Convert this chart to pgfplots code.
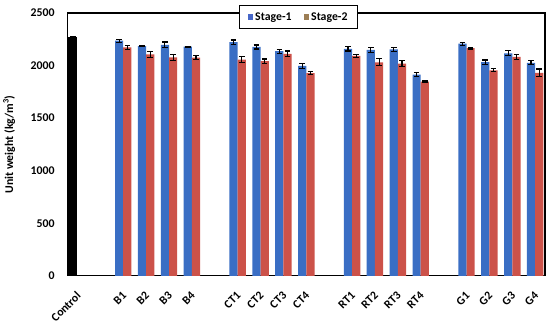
\documentclass[border=0pt]{standalone}
\usepackage{pgfplots}
\pgfplotsset{compat=1.18}
\usepackage{pgfplotstable}
\usepackage{fontspec}
\setmainfont{Carlito}
\definecolor{sone}{HTML}{3A6EC4}
\definecolor{stwo}{HTML}{CC5249}
\definecolor{lone}{HTML}{4767C8}
\definecolor{ltwo}{HTML}{9C7E55}
\pgfplotstableread{
x s1 e1 s2 e2
2 2237 14 2172 17
3 2186 8 2107 30
4 2196 28 2079 28
5 2180 5 2075 20
7 2223 20 2056 28
8 2177 19 2042 20
9 2137 20 2112 27
10 1998 24 1927 16
12 2159 20 2093 14
13 2150 24 2031 32
14 2153 20 2018 28
15 1914 19 1847 6
17 2208 13 2166 8
18 2033 20 1955 13
19 2117 25 2083 24
20 2026 20 1931 36
}\data
\pgfplotstableread{
x y e
0 2270 10
}\ctrl
\begin{document}
\begin{tikzpicture}
\begin{axis}[
  scale only axis,
  width=478bp, height=263bp,
  xmin=-0.45, xmax=20.43,
  ymin=0, ymax=2500,
  ytick={0,500,1000,1500,2000,2500},
  xtick={0,2,3,4,5,7,8,9,10,12,13,14,15,17,18,19,20},
  xticklabels={Control,B1,B2,B3,B4,CT1,CT2,CT3,CT4,RT1,RT2,RT3,RT4,G1,G2,G3,G4},
  major tick length=0pt,
  axis line style={black, line width=1.2bp},
  /pgf/number format/assume math mode=true,
  /pgf/number format/1000 sep={},
  tick label style={font=\fontsize{11.8bp}{13bp}\selectfont\bfseries},
  yticklabel style={xshift=-9bp},
  xticklabel style={xshift=3.6bp, yshift=-15.5bp, rotate=45, anchor=east},
  ylabel={Unit weight (kg/m\textsuperscript{3})},
  every axis y label/.style={at={(rel axis cs:0,0.5)}, xshift=-58bp, rotate=90, anchor=center, font=\fontsize{11.8bp}{13bp}\selectfont\bfseries},
  legend style={at={(0.4843,1.0304)}, anchor=north, draw=black, line width=1bp, fill=white,
    legend columns=2, font=\fontsize{11.8bp}{13bp}\selectfont\bfseries,
    /tikz/every even column/.append style={column sep=10bp}, inner xsep=8bp, inner ysep=5bp},
  error bars/error bar style={black, line width=1.1bp},
  error bars/error mark options={black, line width=1.1bp, mark size=2.8bp, rotate=90},
]
\addplot[ybar, bar width=0.36, bar shift=0, fill=sone, draw=none,
  legend image code/.code={\fill[lone] (0bp,-2.8bp) rectangle (5.6bp,2.8bp);},
  error bars/.cd, y dir=both, y explicit]
  table[x expr=\thisrow{x}-0.18, y=s1, y error=e1]{\data};
\addlegendentry{Stage-1}
\addplot[ybar, bar width=0.36, bar shift=0, fill=stwo, draw=none,
  legend image code/.code={\fill[ltwo] (0bp,-2.8bp) rectangle (5.6bp,2.8bp);},
  error bars/.cd, y dir=both, y explicit]
  table[x expr=\thisrow{x}+0.18, y=s2, y error=e2]{\data};
\addlegendentry{Stage-2}
\addplot[ybar, bar width=0.4, bar shift=0, fill=black, draw=none, forget plot,
  error bars/.cd, y dir=both, y explicit]
  table[x expr=\thisrow{x}-0.2, y=y, y error=e]{\ctrl};
\coordinate (bl) at (rel axis cs:0,0);
\coordinate (tr) at (rel axis cs:1,1);
\end{axis}
\path ([xshift=-67bp,yshift=-46bp]bl) rectangle ([xshift=5bp,yshift=13bp]tr);
\end{tikzpicture}
\end{document}
